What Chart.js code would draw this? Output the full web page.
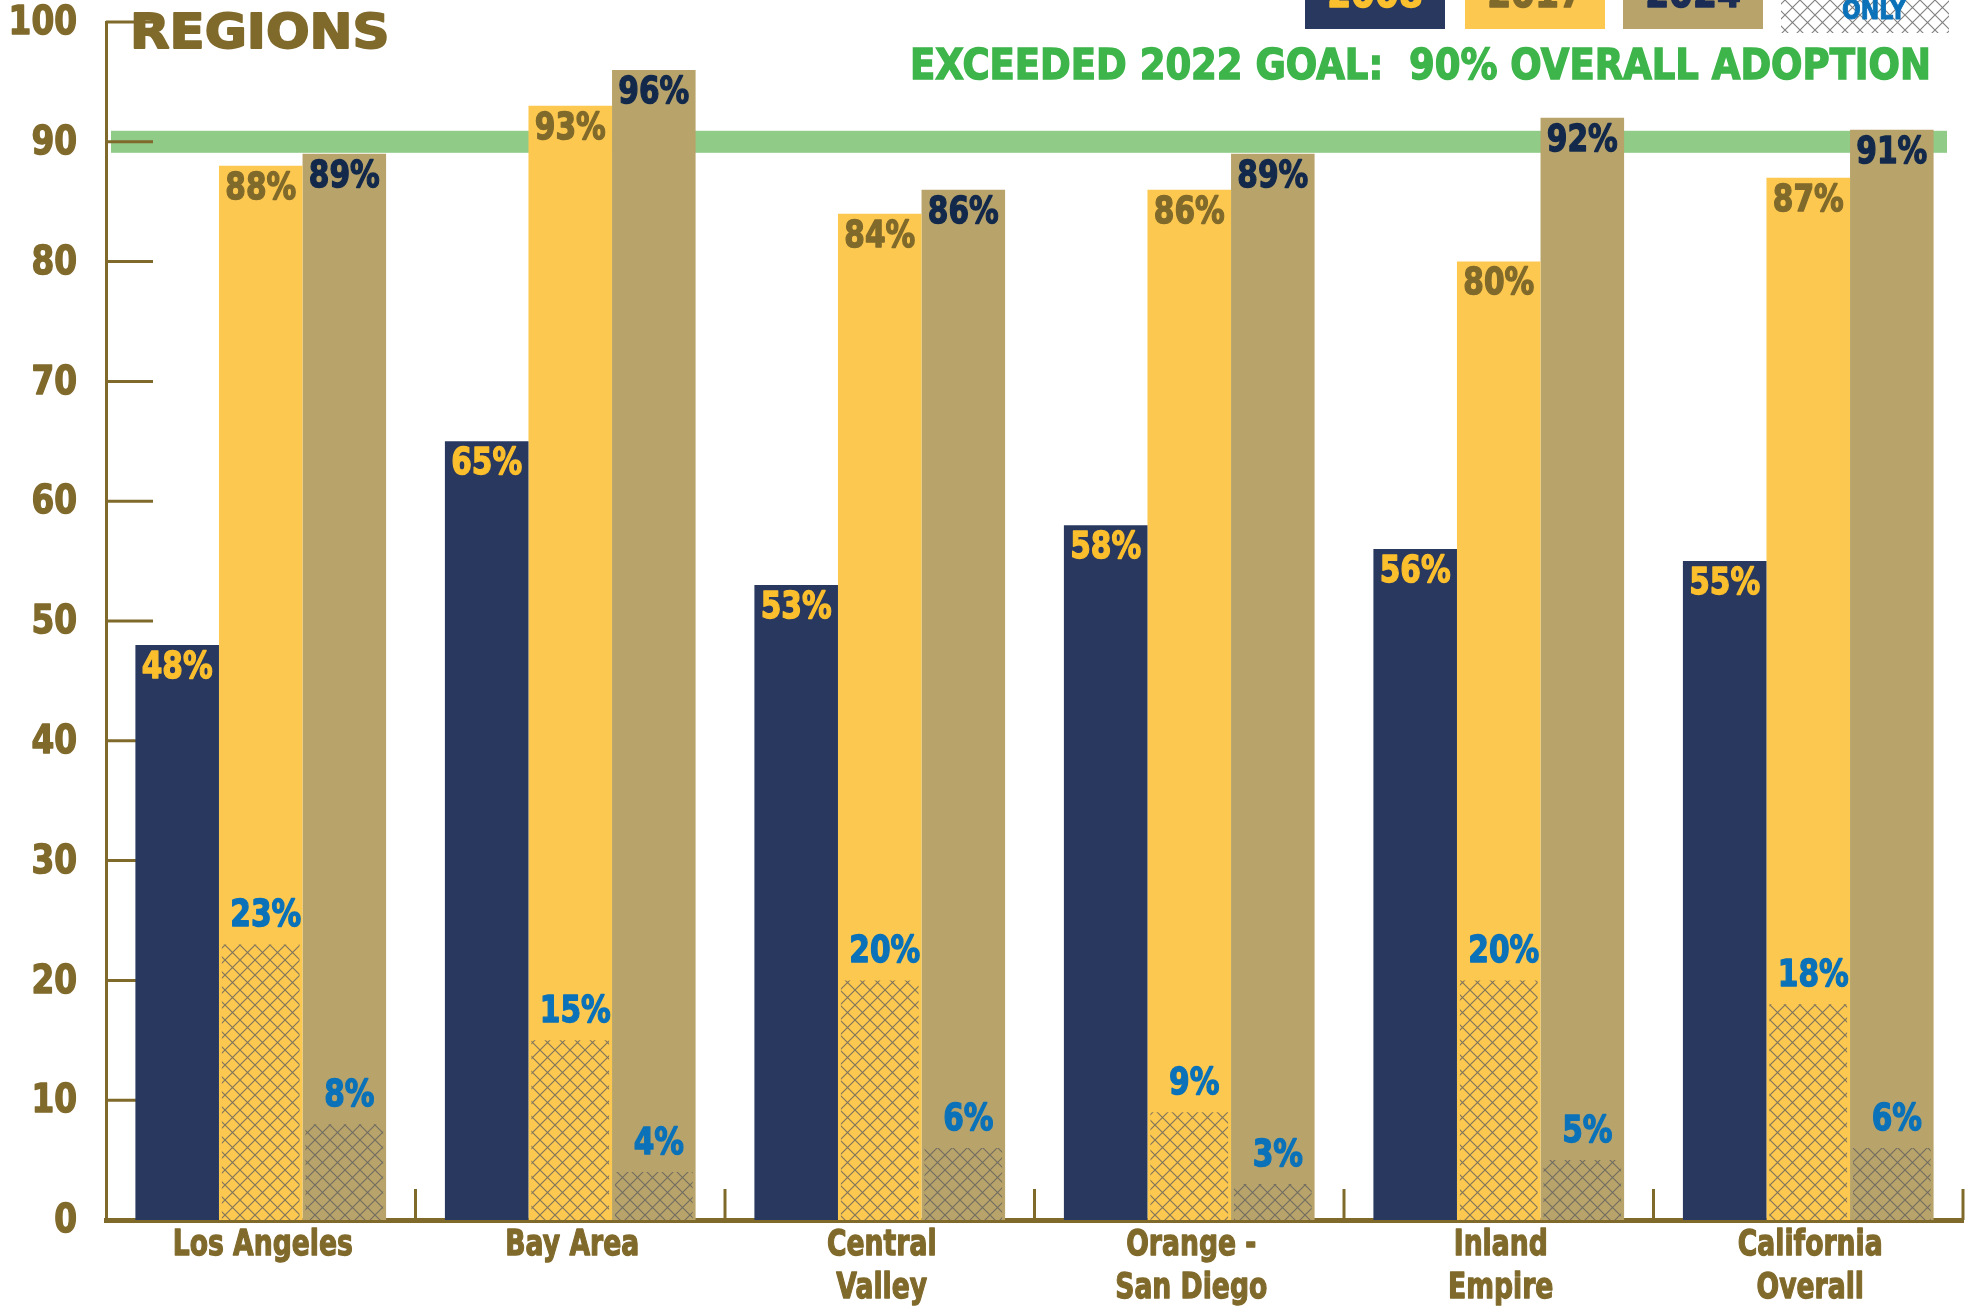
<!DOCTYPE html>
<html>
<head>
<meta charset="utf-8">
<title>Regions</title>
<script src="https://cdn.jsdelivr.net/npm/chart.js@4.4.1/dist/chart.umd.min.js"></script>
<style>
  html, body { margin: 0; padding: 0; background: #fff; overflow: hidden; }
  #wrap { position: relative; width: 1976px; height: 1315px; }
</style>
</head>
<body>
<div id="wrap"><canvas id="chart"></canvas></div>
<script>
// regions along the x axis (one entry per line of the label)
const regions = [
  ['Los Angeles'],
  ['Bay Area'],
  ['Central', 'Valley'],
  ['Orange -', 'San Diego'],
  ['Inland', 'Empire'],
  ['California', 'Overall']
];
const years = ['2008', '2017', '2024'];
const adoption2008 = [48, 65, 53, 58, 56, 55];
const adoption2017 = [88, 93, 84, 86, 80, 87];
const adoption2024 = [89, 96, 86, 89, 92, 91];
const only2017 = [23, 15, 20, 9, 20, 18];
const only2024 = [8, 4, 6, 3, 5, 6];
const yTicks = [0, 10, 20, 30, 40, 50, 60, 70, 80, 90, 100];
const goal = 90;
const titleText = 'REGIONS';
const goalText = 'EXCEEDED 2022 GOAL:  90% OVERALL ADOPTION';
const onlyText = 'ONLY';

const navy = '#28385f';
const gold = '#fcc850';
const tan = '#b8a46b';
const brown = '#806a2b';
const green = '#3db54a';
const bandGreen = '#90cb87';
const blue = '#0b72b9';
const FAMILY = '"DejaVu Sans", "Liberation Sans", sans-serif';

// diamond cross-hatch used for the "only" share of each bar
function makeHatch(bg) {
  const c = document.createElement('canvas');
  c.width = 15; c.height = 15;
  const g = c.getContext('2d');
  if (bg) { g.fillStyle = bg; g.fillRect(0, 0, 15, 15); }
  g.strokeStyle = 'rgba(95,95,95,0.8)';
  g.lineWidth = 1.1;
  g.beginPath();
  for (const k of [-15, 0, 15]) {
    g.moveTo(-2 + k, -2); g.lineTo(17 + k, 17);
    g.moveTo(17 + k, -2); g.lineTo(-2 + k, 17);
  }
  g.stroke();
  return g.createPattern(c, 'repeat');
}
const hatch = makeHatch(null);
const hatchLegend = makeHatch('#ffffff');

// heavy condensed text: squeezed horizontally, stroked to thicken
function drawText(ctx, text, x, y, size, color, align, squeeze, baseline) {
  ctx.save();
  ctx.font = `bold ${size}px ${FAMILY}`;
  ctx.fillStyle = color;
  ctx.strokeStyle = color;
  ctx.lineWidth = size / 26;
  ctx.lineJoin = 'round';
  ctx.textAlign = align;
  ctx.textBaseline = baseline || 'middle';
  ctx.translate(x, y);
  ctx.scale(squeeze, 1);
  ctx.fillText(text, 0, 0);
  ctx.strokeText(text, 0, 0);
  ctx.restore();
}

const decor = {
  id: 'decor',
  beforeDatasetsDraw(chart) {
    const {ctx, chartArea: a, scales: {x, y}} = chart;
    // goal band at 90
    const gy = y.getPixelForValue(goal);
    ctx.fillStyle = bandGreen;
    ctx.fillRect(a.left + 5, gy - 11, a.right - a.left - 21, 22);
    // y ticks pointing into the plot
    ctx.strokeStyle = brown;
    ctx.lineWidth = 3;
    yTicks.forEach(v => {
      const py = y.getPixelForValue(v);
      ctx.beginPath(); ctx.moveTo(a.left, py); ctx.lineTo(a.left + 47, py); ctx.stroke();
    });
    // region separators on the x axis
    const half = (x.getPixelForValue(1) - x.getPixelForValue(0)) / 2;
    regions.forEach((r, i) => {
      const px = x.getPixelForValue(i) + half;
      ctx.beginPath(); ctx.moveTo(px, a.bottom); ctx.lineTo(px, a.bottom - 31); ctx.stroke();
    });
  },
  afterDatasetsDraw(chart) {
    const {ctx} = chart;
    chart.data.datasets.forEach((ds, di) => {
      const meta = chart.getDatasetMeta(di);
      meta.data.forEach((bar, i) => {
        const txt = ds.data[i] + '%';
        if (ds.share) {
          drawText(ctx, txt, bar.x + 5, bar.y - 28, 38, blue, 'center', 0.78);
        } else {
          drawText(ctx, txt, bar.x, bar.y + 23, 38, ds.labelColor, 'center', 0.78);
        }
      });
    });
  },
  afterDraw(chart) {
    const {ctx, chartArea: a, scales: {x, y}} = chart;
    yTicks.forEach(v => {
      drawText(ctx, String(v), a.left - 29, y.getPixelForValue(v) + 2, 39, brown, 'right', 0.84);
    });
    regions.forEach((lines, i) => {
      lines.forEach((t, j) => {
        drawText(ctx, t, x.getPixelForValue(i) + 2, a.bottom + 26 + j * 43, 36, brown, 'center', 0.74);
      });
    });
    // titles
    drawText(ctx, titleText, 130, 48, 48, brown, 'left', 1.07, 'alphabetic');
    ctx.save();
    ctx.font = `bold 42px ${FAMILY}`;
    ctx.fillStyle = green;
    ctx.strokeStyle = green;
    ctx.lineWidth = 1.5;
    ctx.textAlign = 'right';
    ctx.textBaseline = 'alphabetic';
    ctx.fillText(goalText, 1931, 79, 1021);
    ctx.strokeText(goalText, 1931, 79, 1021);
    ctx.restore();
    // legend along the top edge
    const boxes = [
      {x: 1305, w: 140, bg: navy, fg: '#fbc02d'},
      {x: 1465, w: 140, bg: gold, fg: brown},
      {x: 1623, w: 140, bg: tan, fg: '#1b2d55'}
    ];
    boxes.forEach((b, i) => {
      ctx.fillStyle = b.bg;
      ctx.fillRect(b.x, 0, b.w, 29);
      drawText(ctx, years[i], b.x + b.w / 2, 7, 40, b.fg, 'center', 0.86, 'alphabetic');
    });
    ctx.fillStyle = hatchLegend;
    ctx.fillRect(1781, 0, 168, 33);
    drawText(ctx, onlyText, 1874, 19, 26, blue, 'center', 0.85, 'alphabetic');
  }
};

// order: keeps the year groups left to right while the hatched shares paint over their bars
new Chart(document.getElementById('chart'), {
  type: 'bar',
  data: {
    labels: regions.map(r => r.join(' ')),
    datasets: [
      {label: years[0], data: adoption2008, stack: 's2008', order: 0, backgroundColor: navy, labelColor: '#fbbf2d'},
      {label: years[1], data: adoption2017, stack: 's2017', order: 3, backgroundColor: gold, labelColor: brown},
      {label: years[2], data: adoption2024, stack: 's2024', order: 4, backgroundColor: tan, labelColor: '#13294b'},
      {label: years[1] + ' ' + onlyText, data: only2017, stack: 's2017', order: 1, backgroundColor: hatch, barPercentage: 0.93, share: true},
      {label: years[2] + ' ' + onlyText, data: only2024, stack: 's2024', order: 2, backgroundColor: hatch, barPercentage: 0.93, share: true}
    ]
  },
  options: {
    responsive: true,
    maintainAspectRatio: false,
    animation: false,
    layout: {padding: {left: 106, right: 13, top: 22, bottom: 95}},
    datasets: {bar: {categoryPercentage: 0.81, barPercentage: 1.0, borderWidth: 0}},
    plugins: {legend: {display: false}, tooltip: {enabled: false}},
    scales: {
      x: {
        offset: true,
        ticks: {display: false},
        grid: {display: false, drawTicks: false},
        border: {display: true, color: brown, width: 5}
      },
      y: {
        min: 0,
        max: 100,
        stacked: false,
        ticks: {display: false},
        grid: {display: false, drawTicks: false},
        border: {display: true, color: brown, width: 3}
      }
    }
  },
  plugins: [decor]
});
</script>
</body>
</html>
